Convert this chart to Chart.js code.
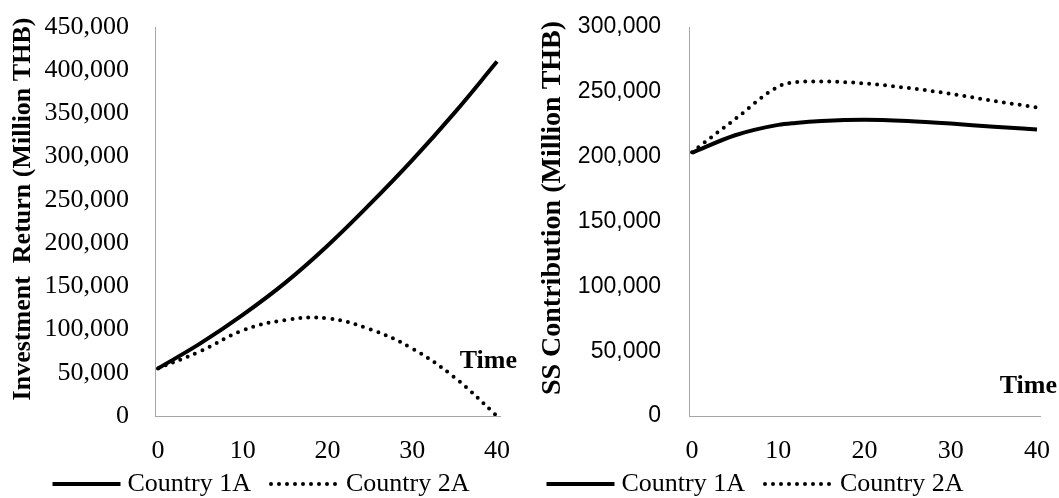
<!DOCTYPE html>
<html>
<head>
<meta charset="utf-8">
<script src="https://cdn.jsdelivr.net/npm/chart.js@4.4.1/dist/chart.umd.min.js"></script>
<style>
  html, body { margin: 0; padding: 0; background: #fff; }
  .wrap { display: flex; width: 1059px; height: 498px; }
  .panel { position: relative; height: 498px; }
  #left { width: 530px; }
  #right { width: 529px; }
</style>
</head>
<body>
<div class="wrap">
  <div class="panel" id="left"><canvas id="returnChart"></canvas></div>
  <div class="panel" id="right"><canvas id="contribChart"></canvas></div>
</div>
<script>
// ---- data ----
const seriesNames = ['Country 1A', 'Country 2A'];
const timeTicks = [0, 10, 20, 30, 40];

// Investment return, million THB
const returnYears = [0, 5, 10, 15, 20, 25, 30, 35, 40];
const return1A = [55000, 84000, 117000, 154000, 197000, 245000, 296000, 351000, 410000];
const return2A = [55000, 75000, 99000, 111000, 113000, 100500, 78000, 44500, 0];

// SS contribution, million THB
const contribYears = [0, 5, 10, 12, 15, 20, 25, 30, 35, 40];
const contrib1A = [203000, 216500, 224500, 226000, 227500, 228500, 227500, 225500, 223000, 221000];
const contrib2A = [203500, 229000, 254000, 257500, 258000, 256500, 253000, 248500, 243000, 238000];

const serif = "'Liberation Serif', 'Times New Roman', serif";
const sans = "'Liberation Sans', Arial, sans-serif";
const axisGray = '#a6a6a6';

function toPoints(xs, ys) {
  return xs.map((x, i) => ({ x: x, y: ys[i] }));
}

function makeDatasets(xs, solid, dotted, mode) {
  const curve = mode === 'monotone' ? { cubicInterpolationMode: 'monotone' } : { tension: 0.4 };
  return [
    Object.assign({
      label: seriesNames[0],
      data: toPoints(xs, solid),
      borderColor: '#000',
      borderWidth: 4,
      pointRadius: 0,
      fill: false
    }, curve),
    Object.assign({
      label: seriesNames[1],
      data: toPoints(xs, dotted),
      borderColor: '#000',
      borderWidth: 4,
      borderDash: [0, 8],
      borderCapStyle: 'round',
      pointRadius: 0,
      fill: false
    }, curve)
  ];
}

// "Time" note near the right end of the x axis
function timeNote(dx, dy) {
  return {
    id: 'timeNote',
    afterDraw(chart) {
      const ctx = chart.ctx;
      const area = chart.chartArea;
      ctx.save();
      ctx.font = 'bold 26px ' + serif;
      ctx.fillStyle = '#000';
      ctx.textAlign = 'right';
      ctx.textBaseline = 'middle';
      ctx.fillText('Time', area.right + dx, area.bottom - dy);
      ctx.restore();
    }
  };
}

// rotated value-axis title, placed like Excel does it
function axisTitle(text, size, cx, cy) {
  return {
    id: 'axisTitle',
    afterDraw(chart) {
      const ctx = chart.ctx;
      ctx.save();
      ctx.translate(cx, cy);
      ctx.rotate(-Math.PI / 2);
      ctx.font = 'bold ' + size + 'px ' + serif;
      ctx.fillStyle = '#000';
      ctx.textAlign = 'center';
      ctx.textBaseline = 'middle';
      ctx.fillText(text, 0, 0);
      ctx.restore();
    }
  };
}

// Excel-like legend: long line sample right next to the label
function lineLegend(centerX, y) {
  return {
    id: 'lineLegend',
    afterDraw(chart) {
      const ctx = chart.ctx;
      const sample = 68, gap = 7, itemGap = 20;
      ctx.save();
      ctx.font = '26px ' + serif;
      const items = chart.data.datasets.map(ds => ({ ds: ds, w: sample + gap + ctx.measureText(ds.label).width }));
      const total = items.reduce((a, it) => a + it.w, 0) + itemGap * (items.length - 1);
      let x = centerX - total / 2;
      items.forEach(({ ds, w }) => {
        ctx.beginPath();
        ctx.lineWidth = ds.borderWidth;
        ctx.strokeStyle = ds.borderColor;
        ctx.lineCap = ds.borderCapStyle || 'butt';
        ctx.setLineDash(ds.borderDash || []);
        ctx.moveTo(x, y);
        ctx.lineTo(x + sample, y);
        ctx.stroke();
        ctx.setLineDash([]);
        ctx.fillStyle = '#000';
        ctx.textAlign = 'left';
        ctx.textBaseline = 'middle';
        ctx.fillText(ds.label, x + sample + gap, y);
        x += w + itemGap;
      });
      ctx.restore();
    }
  };
}

function xAxis() {
  return {
    type: 'linear',
    min: -0.35,
    max: 40.35,
    afterBuildTicks: s => { s.ticks = timeTicks.map(v => ({ value: v })); },
    ticks: { color: '#000', font: { family: serif, size: 26 }, padding: 20, maxRotation: 0, autoSkip: false },
    grid: { display: false, drawTicks: false },
    border: { display: true, color: axisGray, width: 1 },
    afterFit: s => { s.height = 52; s.paddingLeft = 0; s.paddingRight = 0; }
  };
}

function yAxis(max, tickFont, width, tickPad) {
  return {
    min: 0,
    max: max,
    ticks: {
      stepSize: 50000,
      color: '#000',
      font: tickFont,
      padding: tickPad,
      callback: v => v.toLocaleString('en-US')
    },
    grid: { display: false, drawTicks: false },
    border: { display: true, color: axisGray, width: 1 },
    afterFit: s => { s.width = width; s.paddingTop = 0; s.paddingBottom = 0; }
  };
}

function commonOptions(xScale, yScale, padRight) {
  return {
    responsive: true,
    maintainAspectRatio: false,
    animation: false,
    layout: { padding: { top: 27, right: padRight, bottom: 30, left: 0 } },
    plugins: { legend: { display: false }, tooltip: { enabled: false } },
    scales: { x: xScale, y: yScale }
  };
}

new Chart(document.getElementById('returnChart'), {
  type: 'line',
  data: { datasets: makeDatasets(returnYears, return1A, return2A, 'bezier') },
  options: commonOptions(xAxis(), yAxis(450000, { family: serif, size: 26 }, 155, 26), 30),
  plugins: [
    axisTitle('Investment  Return (Million THB)', 26, 23, 209),
    timeNote(17, 55),
    lineLegend(261, 484)
  ]
});

new Chart(document.getElementById('contribChart'), {
  type: 'line',
  data: { datasets: makeDatasets(contribYears, contrib1A, contrib2A, 'monotone') },
  options: commonOptions(xAxis(), yAxis(300000, { family: sans, size: 23 }, 159, 28), 19),
  plugins: [
    axisTitle('SS Contribution (Million THB)', 28, 23, 208),
    timeNote(17, 30),
    lineLegend(225, 484)
  ]
});
</script>
</body>
</html>
